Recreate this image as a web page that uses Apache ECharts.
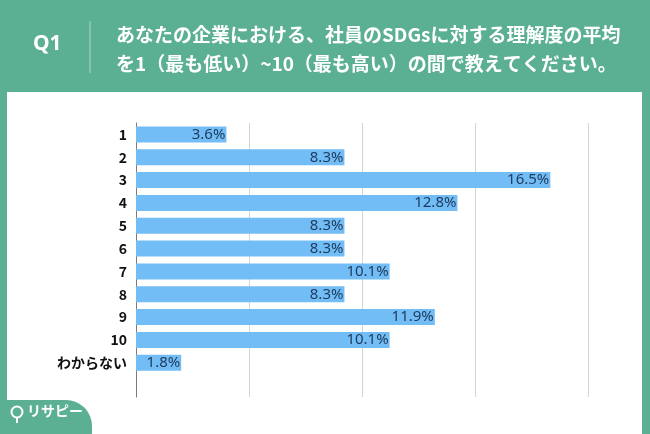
<!DOCTYPE html>
<html><head><meta charset="utf-8">
<script src="https://cdn.jsdelivr.net/npm/echarts@6/dist/echarts.min.js"></script>
<style>html,body{margin:0;padding:0;background:#5bb094;}#c{width:650px;height:434px;}</style>
</head><body><div id="c"></div>
<script>
const categories = ['1','2','3','4','5','6','7','8','9','10','わからない',''];
const values = [3.6, 8.3, 16.5, 12.8, 8.3, 8.3, 10.1, 8.3, 11.9, 10.1, 1.8, null];
const titleLines = ['あなたの企業における、社員のSDGsに対する理解度の平均','を1（最も低い）~10（最も高い）の間で教えてください。'];
const qLabel = 'Q1';
const logoText = 'リサピー';
const axisMax = 18, axisInterval = 4.5;

const green = '#5bb094';
const chart = echarts.init(document.getElementById('c'));
chart.setOption({
  animation:false,
  backgroundColor: green,
  graphic:[
    {type:'rect', shape:{x:7,y:92,width:635,height:350}, style:{fill:'#ffffff'}, z:-10},
    {type:'rect', shape:{x:-20,y:400,width:112,height:60,r:[0,26,0,0]}, style:{fill:green}, z:-5},
    {type:'text', left:33, top:34, style:{text:qLabel, fill:'#fff', font:'bold 21px "Noto Sans", sans-serif'}},
    {type:'line', shape:{x1:90,y1:21,x2:90,y2:73}, style:{stroke:'#a9d6c6', lineWidth:1}},
    {type:'text', left:116, top:25, style:{text:titleLines[0], fill:'#fff', font:'bold 19px "Noto Sans CJK JP", sans-serif'}},
    {type:'text', left:116, top:54, style:{text:titleLines[1], fill:'#fff', font:'bold 19px "Noto Sans CJK JP", sans-serif'}},
    {type:'circle', shape:{cx:17,cy:412,r:5.5}, style:{fill:'none', stroke:'#fff', lineWidth:2}},
    {type:'line', shape:{x1:17,y1:418,x2:17,y2:423}, style:{stroke:'#fff', lineWidth:2}},
    {type:'text', left:27, top:404, style:{text:logoText, fill:'#fff', font:'bold 14px "Noto Sans CJK JP", sans-serif'}}
  ],
  grid:{left:136, right:62, top:123, bottom:37, containLabel:false},
  xAxis:{type:'value', min:0, max:axisMax, interval:axisInterval,
    axisLabel:{show:false}, axisLine:{show:false}, axisTick:{show:false},
    splitLine:{show:true, lineStyle:{color:'#d4d4d4', width:1}}},
  yAxis:{type:'category', data:categories, inverse:true,
    axisLine:{show:true, lineStyle:{color:'#7a7a7a', width:1}},
    axisTick:{show:false},
    axisLabel:{color:'#111', fontWeight:'bold', fontSize:14, margin:9, fontFamily:'"Noto Sans CJK JP", sans-serif'}},
  series:[{type:'bar', data:values, barCategoryGap:'30%',
    itemStyle:{color:'#72bdf6'},
    label:{show:true, position:'insideRight', distance:1, formatter:p=>p.value+'%',
      color:'#1e3a5c', fontSize:15, fontFamily:'"Noto Sans", sans-serif'}}]
});
</script></body></html>
